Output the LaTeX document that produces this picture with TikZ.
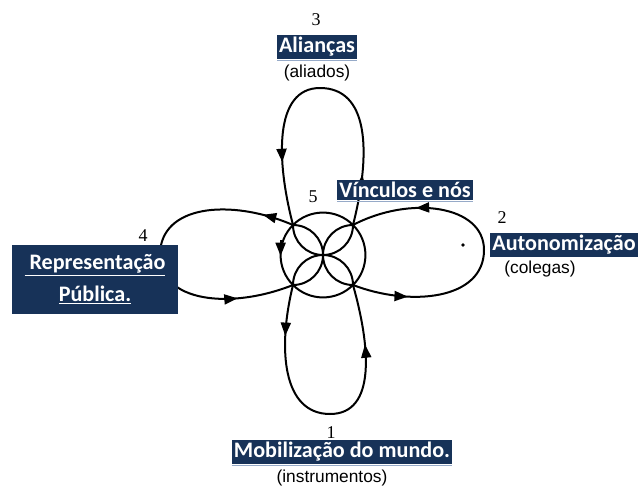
\documentclass[tikz,border=0pt]{standalone}
\usepackage{fontspec}
\setmainfont{Liberation Serif}
\newfontfamily\labelfont{Carlito}
\newfontfamily\notefont{Liberation Sans}
\usetikzlibrary{arrows.meta,decorations.markings}
\definecolor{navy}{RGB}{23,50,88}
\definecolor{rulecol}{RGB}{150,170,200}

\begin{document}
\begin{tikzpicture}
      [x = 0.75pt, y = -0.75pt,
      knot/.style = {line width = 1.5pt, black},
      tip/.tip = {Triangle[length = 10pt, width = 7.5pt]},
      arrowsat/.style 2 args = {
         postaction = {decorate},
         decoration = {markings,
            mark = at position #1 with {\arrow{tip}},
            mark = at position #2 with {\arrow{tip}}}
      },
      tag/.style = {
         fill = navy,
         text = white,
         font = \labelfont\bfseries\fontsize{16.6}{18}\selectfont,
         inner sep = 1.5pt
      },
      note/.style = {font = \notefont\fontsize{13}{15}\selectfont},
      num/.style = {font = \fontsize{13.5}{15}\selectfont},
      rule/.style = {rulecol, line width = 0.8pt}]
      \useasboundingbox (0, 0) rectangle (638, 489);

      \coordinate (O) at (323, 255);
      \coordinate (nw) at (293, 225);
      \coordinate (ne) at (353, 225);
      \coordinate (sw) at (293, 285);
      \coordinate (se) at (353, 285);
      \coordinate (west) at (280.6, 256);
      \coordinate (westup) at (280.6, 240);

      \draw[knot, arrowsat = {0.16}{0.8}] (ne) .. controls (372, 150) and (368, 88) .. (320, 88)
         .. controls (274, 88) and (276, 160) .. (nw);
      \draw[knot, arrowsat = {0.1}{0.82}] (nw) .. controls (230, 198) and (160, 205) .. (160, 255)
         .. controls (160, 302) and (230, 310) .. (sw);
      \draw[knot, arrowsat = {0.17}{0.8}] (sw) .. controls (277, 350) and (283, 414) .. (330, 414)
         .. controls (377, 414) and (370, 345) .. (se);
      \draw[knot, arrowsat = {0.18}{0.79}] (se) .. controls (410, 307) and (484, 300) .. (484, 250)
         .. controls (484, 205) and (410, 195) .. (ne);

      \begin{scope}
         \clip (O) circle[radius = 42.43];
         \foreach \c in {(323, 225), (353, 255), (323, 285), (293, 255)}
            \draw[knot] \c circle[radius = 30];
      \end{scope}
      \draw[knot] (O) circle[radius = 42.43];
      \draw[knot, -{tip}] (westup) -- (west);

      \fill (463, 245) circle[radius = 1.8];

      \node[num] (n3) at (316, 20) {3};
      \node[tag] (ali) at (317, 47) {Alianças};
      \node[note] (aliados) at (317, 73) {(aliados)};
      \node[num] (n5) at (313, 197) {5};
      \node[tag] (vin) at (405, 190) {Vínculos e nós};
      \node[num] (n2) at (502, 218) {2};
      \node[tag] (aut) at (564, 245) {Autonomização};
      \node[note] (col) at (540, 269) {(colegas)};
      \node[num] (n4) at (143, 236) {4};
      \node[tag, align = center, minimum width = 124.5pt, minimum height = 51.75pt] (rep) at (95, 279.5)
         {\underline{\ Representação}\\[6pt]\underline{Pública.}};
      \node[num] (n1) at (331, 433) {1};
      \node[tag] (mob) at (342, 452) {Mobilização do mundo.};
      \node[note] (ins) at (332, 478) {(instrumentos)};

      \draw[rule] ([yshift = -1.2pt] ali.south west) -- ([yshift = -1.2pt] ali.south east);
      \draw[rule] ([yshift = -1.2pt] vin.south west) -- ([yshift = -1.2pt] vin.south east);
      \draw[rule] ([yshift = -1.2pt] mob.south west) -- ([yshift = -1.2pt] mob.south east);
   \end{tikzpicture}
\end{document}
